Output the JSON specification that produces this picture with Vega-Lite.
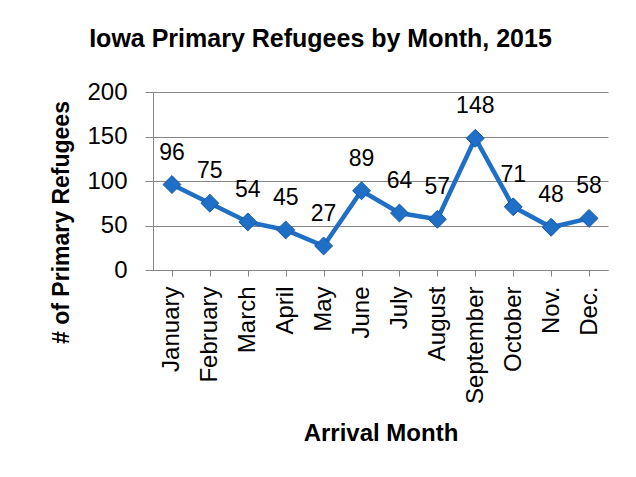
{
  "$schema": "https://vega.github.io/schema/vega-lite/v6.json",
  "width": 455,
  "height": 178,
  "autosize": {"type": "none"},
  "padding": {"left": 153, "top": 92, "right": 28, "bottom": 207},
  "background": "white",
  "title": {
    "text": "Iowa Primary Refugees by Month, 2015",
    "font": "Liberation Sans",
    "fontSize": 25,
    "fontWeight": "bold",
    "color": "#000000",
    "anchor": "middle",
    "dx": -60,
    "offset": 28
  },
  "data": {
    "values": [
      {"month": "January", "value": 96},
      {"month": "February", "value": 75},
      {"month": "March", "value": 54},
      {"month": "April", "value": 45},
      {"month": "May", "value": 27},
      {"month": "June", "value": 89},
      {"month": "July", "value": 64},
      {"month": "August", "value": 57},
      {"month": "September", "value": 148},
      {"month": "October", "value": 71},
      {"month": "Nov.", "value": 48},
      {"month": "Dec.", "value": 58}
    ]
  },
  "encoding": {
    "x": {
      "field": "month",
      "type": "nominal",
      "sort": null,
      "scale": {"paddingInner": 0, "paddingOuter": 0.5},
      "axis": {
        "title": "Arrival Month",
        "titleFont": "Liberation Sans",
        "titleFontSize": 24,
        "titleFontWeight": "bold",
        "titleColor": "#000000",
        "titlePadding": 18,
        "labelAngle": -90,
        "labelFont": "Liberation Sans",
        "labelFontSize": 24,
        "labelColor": "#000000",
        "labelPadding": 10,
        "bandPosition": 0,
        "tickSize": 6,
        "tickColor": "#868686",
        "domainColor": "#868686",
        "grid": false
      }
    },
    "y": {
      "field": "value",
      "type": "quantitative",
      "scale": {"domain": [0, 200], "nice": false},
      "axis": {
        "title": "# of Primary Refugees",
        "titleFont": "Liberation Sans",
        "titleFontSize": 23,
        "titleFontWeight": "bold",
        "titleColor": "#000000",
        "titleX": -80,
        "titleY": 130,
        "values": [0, 50, 100, 150, 200],
        "labelFont": "Liberation Sans",
        "labelFontSize": 24,
        "labelColor": "#000000",
        "labelPadding": 18,
        "tickSize": 8,
        "tickColor": "#868686",
        "domainColor": "#868686",
        "grid": true,
        "gridColor": "#868686"
      }
    }
  },
  "layer": [
    {
      "mark": {"type": "line", "color": "#1F6FC6", "strokeWidth": 4.5},
      "encoding": {}
    },
    {
      "mark": {"type": "point", "shape": "diamond", "filled": true, "size": 320, "color": "#1F6FC6", "stroke": "#175AA3", "strokeWidth": 1, "opacity": 1},
      "encoding": {}
    },
    {
      "mark": {"type": "text", "font": "Liberation Sans", "fontSize": 23, "color": "#000000", "baseline": "alphabetic", "dy": -25},
      "encoding": {"text": {"field": "value", "type": "quantitative"}}
    }
  ],
  "config": {"view": {"stroke": null}}
}
